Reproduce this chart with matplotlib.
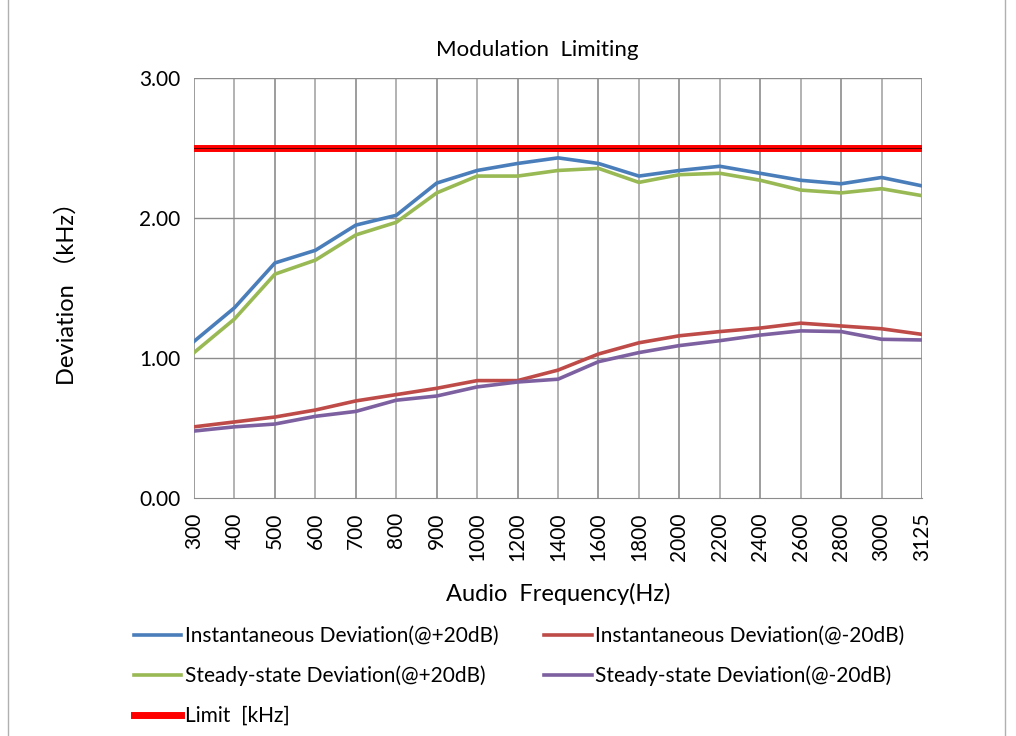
import numpy as np
import matplotlib
matplotlib.use("Agg")
import matplotlib.pyplot as plt
from matplotlib.patches import Rectangle

plt.rcParams['font.family'] = ['Lato', 'DejaVu Sans', 'Noto Sans CJK SC']

## DATA
freqs = ['300', '400', '500', '600', '700', '800', '900', '1000', '1200', '1400',
         '1600', '1800', '2000', '2200', '2400', '2600', '2800', '3000', '3125']

inst_pos = [1.12, 1.36, 1.68, 1.77, 1.95, 2.02, 2.25, 2.34, 2.39, 2.43,
            2.39, 2.30, 2.34, 2.37, 2.32, 2.27, 2.245, 2.29, 2.23]
inst_neg = [0.51, 0.545, 0.58, 0.63, 0.695, 0.74, 0.785, 0.84, 0.84, 0.915,
            1.03, 1.11, 1.16, 1.19, 1.215, 1.25, 1.23, 1.21, 1.17]
steady_pos = [1.04, 1.28, 1.60, 1.70, 1.88, 1.97, 2.18, 2.30, 2.30, 2.34,
              2.355, 2.255, 2.31, 2.32, 2.27, 2.20, 2.18, 2.21, 2.16]
steady_neg = [0.48, 0.51, 0.53, 0.585, 0.62, 0.70, 0.73, 0.795, 0.83, 0.85,
              0.975, 1.04, 1.09, 1.125, 1.165, 1.195, 1.19, 1.135, 1.13]
limit = [2.5] * len(freqs)

x = np.arange(len(freqs))

fig = plt.figure(figsize=(10.16, 7.36), dpi=100)
ax = fig.add_axes([0.191, 0.323, 0.7165, 0.571])

# grid
for i in x:
    ax.axvline(i, color='#8c8c8c' if i % 2 == 0 else '#a6a6a6', lw=1.2, zorder=1)
for yv in [1.0, 2.0, 3.0]:
    ax.axhline(yv, color='#8c8c8c', lw=1.0, zorder=1)

l_ip, = ax.plot(x, inst_pos, color='#4A7EBB', lw=2.6, zorder=3)
l_in, = ax.plot(x, inst_neg, color='#BE4B48', lw=2.6, zorder=3)
l_sp, = ax.plot(x, steady_pos, color='#98B954', lw=2.6, zorder=3)
l_sn, = ax.plot(x, steady_neg, color='#7D60A0', lw=2.6, zorder=3)
l_lim, = ax.plot(x, limit, color='#FF0000', lw=5, zorder=4)
ax.plot(x, limit, color='#400000', lw=0.6, zorder=5)

ax.set_xlim(0, len(freqs) - 1)
ax.set_ylim(0, 3)
ax.set_xticks(x)
ax.set_xticklabels(freqs, rotation=90, fontsize=15)
ax.set_yticks([0, 1, 2, 3])
ax.set_yticklabels(['0.00', '1.00', '2.00', '3.00'], fontsize=15)
ax.tick_params(length=0, pad=10)
for s in ['top', 'right', 'left']:
    ax.spines[s].set_visible(False)
ax.spines['bottom'].set_color('#8c8c8c')

ax.set_title('Modulation  Limiting', fontsize=16, pad=16, x=0.471)
ax.set_xlabel('Audio  Frequency(Hz)', fontsize=17, labelpad=16)
ax.set_ylabel('Deviation （kHz）', fontsize=17, labelpad=44)

handles = [l_ip, l_sp, l_lim, l_in, l_sn]
labels = ['Instantaneous Deviation(@+20dB)', 'Steady-state Deviation(@+20dB)', 'Limit  [kHz]',
          'Instantaneous Deviation(@-20dB)', 'Steady-state Deviation(@-20dB)']
fig.legend(handles, labels, ncol=2, loc='upper left', bbox_to_anchor=(0.113, 0.175),
           frameon=False, fontsize=15, handlelength=2.3, handletextpad=0.15,
           columnspacing=2.2, labelspacing=0.95)

fig.patches.append(Rectangle((0.008, -0.01), 0.981, 1.02, transform=fig.transFigure,
                             fill=False, edgecolor='#b0b0b0', lw=1))

fig.savefig('out.png', dpi=100)
